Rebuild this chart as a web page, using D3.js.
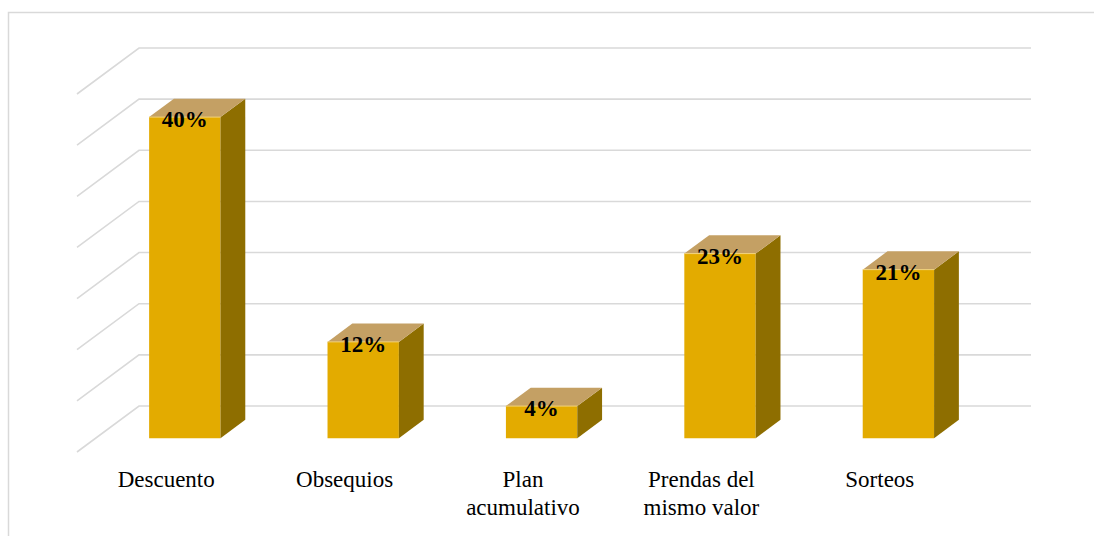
<!DOCTYPE html>
<html>
<head>
<meta charset="utf-8">
<script src="https://cdn.jsdelivr.net/npm/d3@7"></script>
<style>
  html, body { margin: 0; padding: 0; background: #ffffff; }
  svg { display: block; }
</style>
</head>
<body>
<svg id="chart" width="1094" height="536"></svg>
<script>
// Chart data
const categories = ["Descuento", "Obsequios", "Plan acumulativo", "Prendas del mismo valor", "Sorteos"];
const values = [40, 12, 4, 23, 21];
const valueLabels = ["40%", "12%", "4%", "23%", "21%"];
const axisMax = 44.6;   // top of the value axis (percent)
const gridSteps = 7;    // number of gridline intervals

// Layout of the 3D box (oblique projection)
const floorLeft = 77, floorRight = 969, floorFrontY = 452;
const depthX = 62, depthY = 46;      // vector from front floor edge to back wall
const plotHeight = 358;
const barFront = 0.3, barBack = 0.7; // bar depth as fractions of the floor depth

const colors = {
  grid: "#d9d9d9",
  front: "#e3ab00",
  side: "#8e6e00",
  top: "#c4a064",
  edge: "#f2d27a",
  text: "#000000"
};

const svg = d3.select("#chart");

const x = d3.scaleBand()
  .domain(categories)
  .range([floorLeft, floorRight])
  .paddingInner(0.6)
  .paddingOuter(0.3);

const y = d3.scaleLinear().domain([0, axisMax]).range([0, plotHeight]);

// project (front x, value, depth fraction) to screen coordinates
function proj(px, v, f) {
  return [px + f * depthX, floorFrontY - f * depthY - y(v)];
}

// outer chart border
svg.append("rect")
  .attr("x", 8.5).attr("y", 12.5)
  .attr("width", 1200).attr("height", 700)
  .attr("fill", "none")
  .attr("stroke", colors.grid)
  .attr("stroke-width", 1.5);

// gridlines: floor-side diagonal plus back wall line
const gridTicks = d3.range(0, gridSteps + 1).map(i => i * axisMax / gridSteps);
svg.append("g")
  .selectAll("polyline")
  .data(gridTicks)
  .join("polyline")
  .attr("points", t => [proj(floorLeft, t, 0), proj(floorLeft, t, 1), proj(floorRight, t, 1)]
    .map(p => p.join(",")).join(" "))
  .attr("fill", "none")
  .attr("stroke", colors.grid)
  .attr("stroke-width", 1.6);

const data = categories.map((c, i) => ({ cat: c, value: values[i], label: valueLabels[i] }));
const bw = x.bandwidth();
const dx = (barBack - barFront) * depthX;
const dy = (barBack - barFront) * depthY;

const bars = svg.append("g").selectAll("g").data(data).join("g");

function pts(arr) { return arr.map(p => p.join(",")).join(" "); }

// front face
bars.append("polygon")
  .attr("points", d => {
    const xl = x(d.cat), xr = xl + bw;
    return pts([proj(xl, 0, barFront), proj(xr, 0, barFront), proj(xr, d.value, barFront), proj(xl, d.value, barFront)]);
  })
  .attr("fill", colors.front);

// right side face
bars.append("polygon")
  .attr("points", d => {
    const xr = x(d.cat) + bw;
    return pts([proj(xr, 0, barFront), proj(xr, 0, barBack), proj(xr, d.value, barBack), proj(xr, d.value, barFront)]);
  })
  .attr("fill", colors.side);

// top face
bars.append("polygon")
  .attr("points", d => {
    const xl = x(d.cat), xr = xl + bw;
    return pts([proj(xl, d.value, barFront), proj(xr, d.value, barFront), proj(xr, d.value, barBack), proj(xl, d.value, barBack)]);
  })
  .attr("fill", colors.top);

// light edge between top and front
bars.append("line")
  .attr("x1", d => proj(x(d.cat), d.value, barFront)[0])
  .attr("x2", d => proj(x(d.cat) + bw, d.value, barFront)[0])
  .attr("y1", d => proj(x(d.cat), d.value, barFront)[1])
  .attr("y2", d => proj(x(d.cat), d.value, barFront)[1])
  .attr("stroke", colors.edge)
  .attr("stroke-width", 1);

// value labels centred on the front top edge
svg.append("g").selectAll("text").data(data).join("text")
  .attr("x", d => proj(x(d.cat) + bw / 2, d.value, barFront)[0])
  .attr("y", d => proj(x(d.cat), d.value, barFront)[1] + 10)
  .attr("text-anchor", "middle")
  .attr("font-family", "'Liberation Serif', 'Times New Roman', serif")
  .attr("font-weight", "bold")
  .attr("font-size", 23)
  .attr("fill", colors.text)
  .text(d => d.label);

// category labels, wrapped to the available width
const labelFont = "'Liberation Serif', 'Times New Roman', serif";
const catLabels = svg.append("g").selectAll("text").data(data).join("text")
  .attr("text-anchor", "middle")
  .attr("font-family", labelFont)
  .attr("font-size", 23)
  .attr("fill", colors.text)
  .attr("x", d => x(d.cat) + bw / 2)
  .attr("y", 487);

const maxLineWidth = 150;
catLabels.each(function (d) {
  const el = d3.select(this);
  const words = d.cat.split(" ");
  const lines = [];
  let line = [];
  const probe = el.append("tspan");
  words.forEach(w => {
    const trial = line.concat([w]).join(" ");
    probe.text(trial);
    if (line.length && probe.node().getComputedTextLength() > maxLineWidth) {
      lines.push(line.join(" "));
      line = [w];
    } else {
      line.push(w);
    }
  });
  if (line.length) lines.push(line.join(" "));
  probe.remove();
  const cx = x(d.cat) + bw / 2;
  lines.forEach((ln, i) => {
    el.append("tspan").attr("x", cx).attr("dy", i === 0 ? 0 : 28).text(ln);
  });
});
</script>
</body>
</html>
